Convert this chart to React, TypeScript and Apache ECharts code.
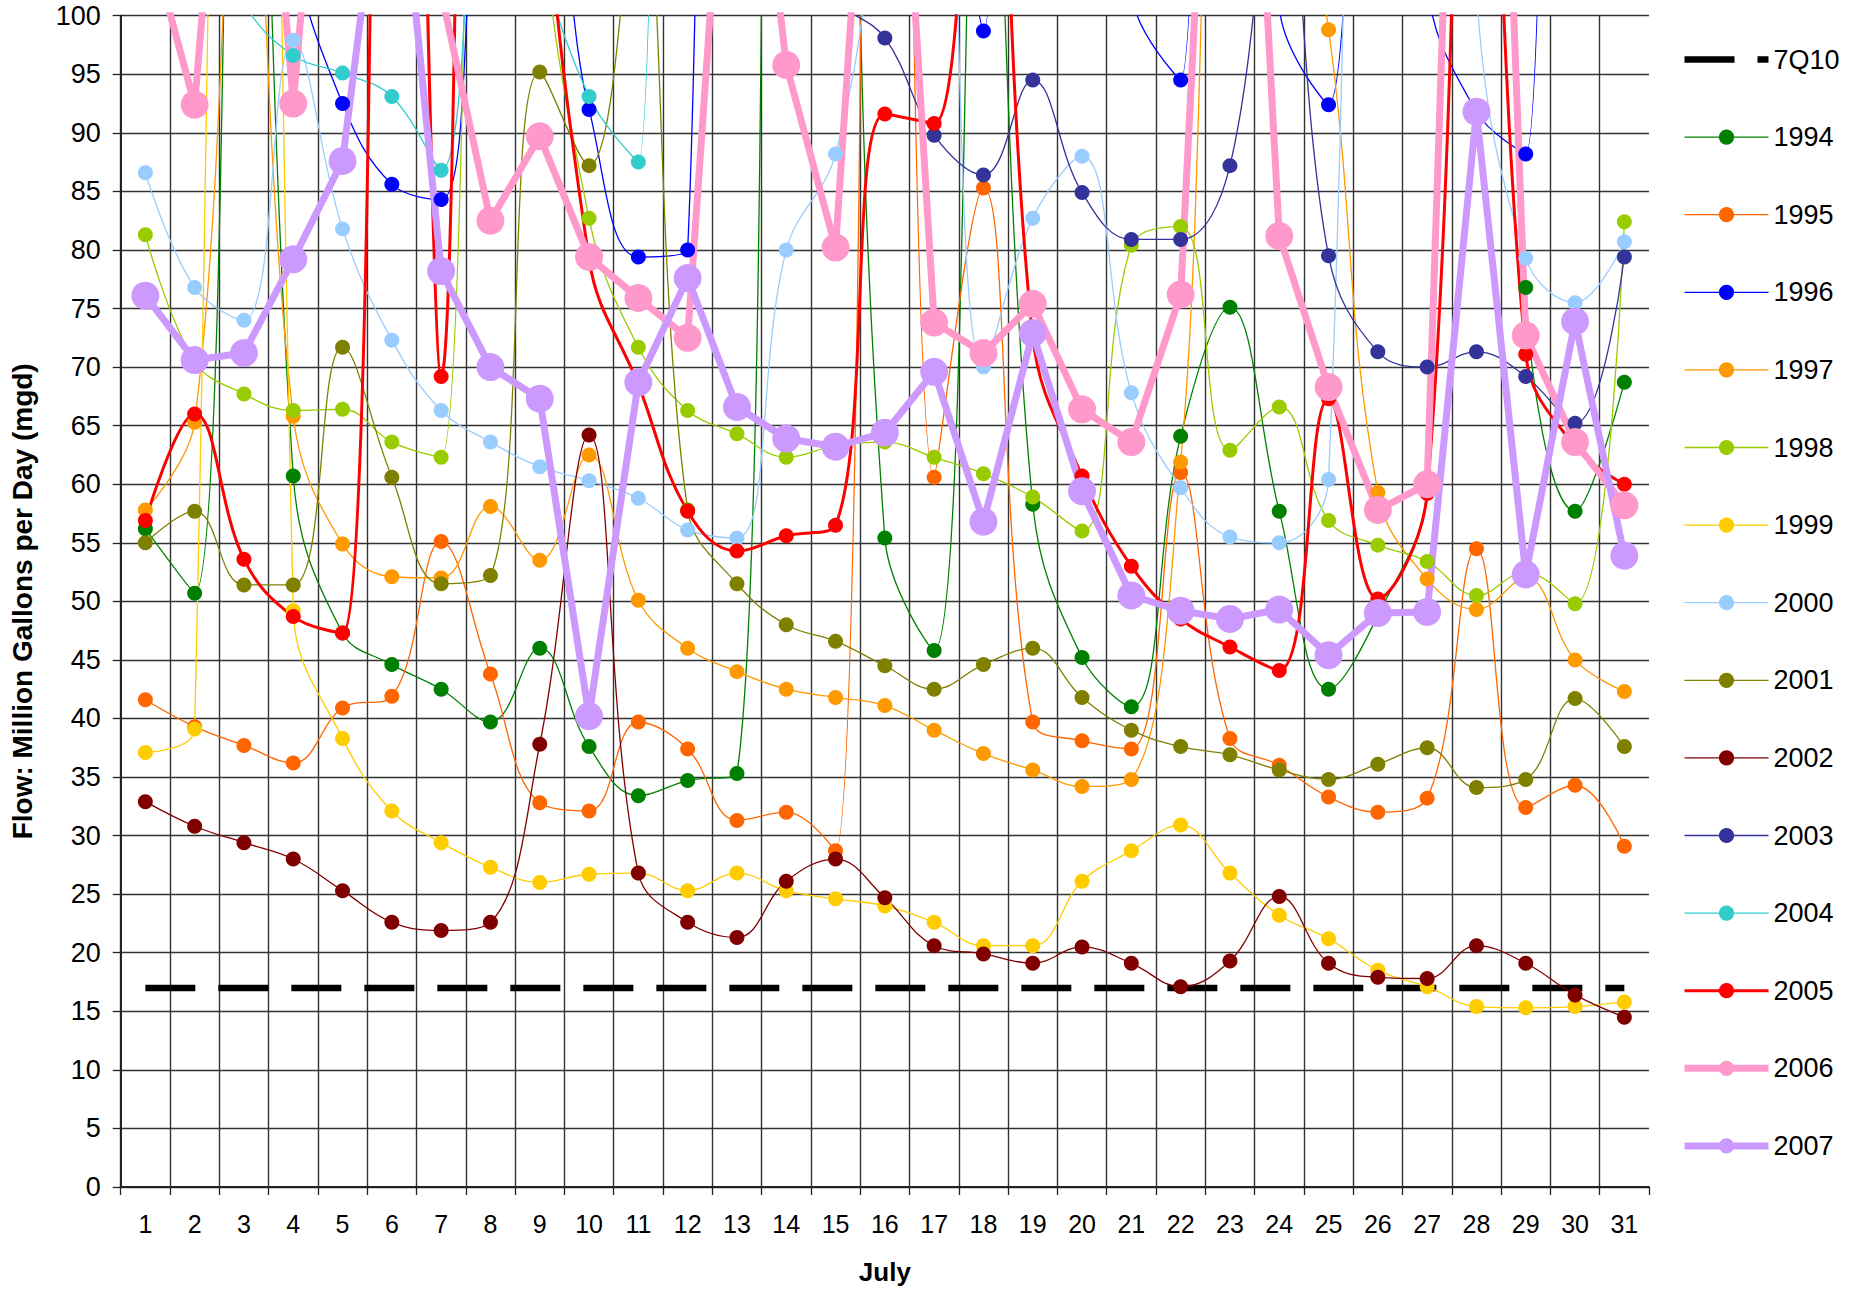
import React, { useEffect, useRef } from 'react';
import * as echarts from 'echarts';

const days = ['1','2','3','4','5','6','7','8','9','10','11','12','13','14','15','16','17','18','19','20','21','22','23','24','25','26','27','28','29','30','31'];

const q7q10Value = 17;

const y1994 = [56.2, 50.7, 170, 60.7, 47.3, 44.6, 42.5, 39.7, 46.0, 37.6, 33.4, 34.7, 35.3, 190, 160, 55.4, 45.8, 132, 58.3, 45.2, 41.0, 64.1, 75.1, 57.7, 42.5, 48.8, 60.0, 250, 76.8, 57.7, 68.7];
const y1995 = [41.6, 39.3, 37.7, 36.2, 40.9, 41.9, 55.1, 43.8, 32.8, 32.1, 39.7, 37.4, 31.3, 32.0, 28.7, 300, 60.6, 85.3, 39.7, 38.1, 37.4, 61.0, 38.3, 36.0, 33.3, 32.0, 33.2, 54.5, 32.4, 34.3, 29.1];
const y1996 = [130, 150, 140, 106, 92.5, 85.6, 84.3, 112, 112, 92.0, 79.4, 80.0, 600, 400, 300, 250, 130, 98.7, 400, 200, 102, 94.5, 400, 101, 92.4, 200, 103, 91.8, 88.2, 400, 300];
const y1997 = [57.8, 65.3, 125, 65.8, 54.9, 52.1, 52.0, 58.1, 53.5, 62.5, 50.1, 46.0, 44.0, 42.5, 41.8, 41.1, 39.0, 37.0, 35.6, 34.2, 34.8, 61.9, 125, 120, 98.8, 59.3, 51.9, 49.3, 52.0, 45.0, 42.3];
const y1998 = [81.3, 70.5, 67.7, 66.3, 66.4, 63.6, 62.3, 250, 113, 82.7, 71.7, 66.3, 64.3, 62.3, 63.3, 63.6, 62.3, 60.9, 58.9, 56.0, 80.4, 82.0, 62.9, 66.6, 56.9, 54.8, 53.4, 50.5, 52.5, 49.8, 82.4];
const y1999 = [37.1, 39.1, 400, 49.2, 38.3, 32.1, 29.4, 27.3, 26.0, 26.7, 26.8, 25.3, 26.8, 25.3, 24.6, 24.0, 22.6, 20.6, 20.6, 26.1, 28.7, 30.9, 26.8, 23.2, 21.2, 18.5, 17.1, 15.4, 15.3, 15.4, 15.8];
const y2000 = [86.6, 76.8, 74.0, 97.9, 81.8, 72.3, 66.3, 63.6, 61.5, 60.3, 58.8, 56.1, 55.4, 80.0, 88.2, 112, 130, 70.0, 82.7, 88.0, 67.8, 59.7, 55.5, 55.0, 60.4, 250, 200, 102, 79.3, 75.5, 80.7];
const y2001 = [55.0, 57.7, 51.4, 51.4, 71.7, 60.6, 51.5, 52.2, 95.2, 87.2, 112, 57.8, 51.5, 48.0, 46.6, 44.5, 42.5, 44.6, 46.0, 41.8, 39.0, 37.6, 36.9, 35.6, 34.8, 36.1, 37.5, 34.1, 34.8, 41.7, 37.6];
const y2002 = [32.9, 30.8, 29.4, 28.0, 25.3, 22.6, 21.9, 22.6, 37.8, 64.2, 26.8, 22.6, 21.3, 26.1, 28.0, 24.7, 20.6, 19.9, 19.1, 20.5, 19.1, 17.1, 19.3, 24.8, 19.1, 17.9, 17.8, 20.6, 19.1, 16.4, 14.5];
const y2003 = [220, 210, 200, 190, 180, 170, 160, 150, 140, 130, 125, 120, 115, 110, 101.5, 98.1, 89.8, 86.4, 94.5, 84.9, 80.9, 80.9, 87.2, 116, 79.5, 71.3, 70.0, 71.3, 69.2, 65.2, 79.4];
const y2004 = [120, 110, 101, 96.6, 95.1, 93.1, 86.8, 130, 106, 93.1, 87.5, 500, 420, 360, 320, 290, 260, 240, 220, 200, 190, 180, 170, 160, 150, 145, 140, 135, 130, 125, 120];
const y2005 = [56.9, 66.0, 53.6, 48.7, 47.3, 200, 69.2, 350, 125, 79.2, 68.5, 57.7, 54.3, 55.6, 56.5, 91.6, 90.8, 140, 72.6, 60.7, 53.0, 48.5, 46.1, 44.1, 67.3, 50.2, 59.2, 150, 71.1, 63.2, 60.0];
const y2006 = [108, 92.4, 143, 92.5, 141, 130, 102, 82.5, 89.7, 79.4, 75.9, 72.5, 133, 95.8, 80.2, 143, 73.8, 71.2, 75.4, 66.4, 63.6, 76.2, 160, 81.2, 68.3, 57.8, 60.0, 185, 72.7, 63.6, 58.2];
const y2007 = [76.1, 70.6, 71.2, 79.2, 87.6, 121, 78.2, 70.0, 67.3, 40.2, 68.7, 77.6, 66.6, 63.9, 63.2, 64.4, 69.6, 56.8, 72.9, 59.4, 50.5, 49.2, 48.5, 49.3, 45.4, 49.0, 49.1, 91.8, 52.3, 73.9, 53.9];

const yTitle = 'Flow: Million Gallons per Day (mgd)';
const xTitle = 'July';

const FONT = '"Liberation Sans", Arial, sans-serif';

type Ser = { name: string; data: number[]; color: string; width: number };
const thinSeries: Ser[] = [
  { name: '1994', data: y1994, color: '#008000', width: 1.3 },
  { name: '1995', data: y1995, color: '#FF6600', width: 1.3 },
  { name: '1996', data: y1996, color: '#0000FF', width: 1.3 },
  { name: '1997', data: y1997, color: '#FF9900', width: 1.3 },
  { name: '1998', data: y1998, color: '#99CC00', width: 1.3 },
  { name: '1999', data: y1999, color: '#FFCC00', width: 1.3 },
  { name: '2000', data: y2000, color: '#99CCFF', width: 1.3 },
  { name: '2001', data: y2001, color: '#808000', width: 1.3 },
  { name: '2002', data: y2002, color: '#800000', width: 1.3 },
  { name: '2003', data: y2003, color: '#333399', width: 1.3 },
  { name: '2004', data: y2004, color: '#33CCCC', width: 1.3 },
  { name: '2005', data: y2005, color: '#FF0000', width: 3 },
];
const thickSeries: Ser[] = [
  { name: '2006', data: y2006, color: '#FF99CC', width: 7 },
  { name: '2007', data: y2007, color: '#CC99FF', width: 7 },
];

export default function App() {
  const ref = useRef<HTMLDivElement>(null);
  useEffect(() => {
    if (!ref.current) return;
    const chart = echarts.init(ref.current, null, { renderer: 'svg' });
    const series: any[] = [];
    series.push({
      name: '7Q10',
      type: 'line',
      data: days.map(() => q7q10Value),
      symbol: 'none',
      lineStyle: { color: '#000', width: 6.5, type: [50, 23] },
      itemStyle: { color: '#000' },
      silent: true,
    });
    thinSeries.forEach((s) => {
      series.push({
        name: s.name,
        type: 'line',
        data: s.data,
        smooth: 0.4,
        symbol: 'circle',
        symbolSize: 15,
        showAllSymbol: true,
        clip: true,
        lineStyle: { color: s.color, width: s.width },
        itemStyle: { color: s.color, borderWidth: 0 },
      });
    });
    thickSeries.forEach((s) => {
      series.push({
        name: s.name,
        type: 'line',
        data: s.data,
        smooth: false,
        symbol: 'circle',
        symbolSize: 28,
        showAllSymbol: true,
        clip: true,
        lineStyle: { color: s.color, width: s.width },
        itemStyle: { color: s.color, borderWidth: 0 },
      });
    });

    const legendData: any[] = [{ name: '7Q10', itemStyle: { opacity: 0 } }];
    thinSeries.concat(thickSeries).forEach((s) => legendData.push({ name: s.name }));

    chart.setOption({
      animation: false,
      backgroundColor: '#ffffff',
      textStyle: { fontFamily: FONT },
      grid: { left: 120.7, right: 217, top: 15.7, bottom: 101.7, containLabel: false },
      legend: {
        data: legendData,
        orient: 'vertical',
        left: 1676,
        top: 40.5,
        padding: 5,
        itemWidth: 84,
        itemHeight: 19,
        itemGap: 49.6,
        selectedMode: false,
        lineStyle: { width: 'inherit' },
        textStyle: { fontFamily: FONT, fontSize: 27, color: '#000', lineHeight: 28 },
      },
      xAxis: {
        type: 'category',
        data: days,
        boundaryGap: true,
        name: xTitle,
        nameLocation: 'middle',
        nameGap: 72,
        nameTextStyle: { fontFamily: FONT, fontSize: 26, fontWeight: 'bold', color: '#000' },
        axisLine: { show: true, lineStyle: { color: '#222', width: 2 } },
        axisTick: { show: true, interval: 0, length: 8, inside: false, lineStyle: { color: '#222', width: 1.3 } },
        axisLabel: { interval: 0, fontSize: 25, margin: 24, color: '#000', fontFamily: FONT },
        splitLine: { show: true, interval: 0, showMaxLine: false, lineStyle: { color: '#333', width: 1.4 } },
      },
      yAxis: {
        type: 'value',
        min: 0,
        max: 100,
        interval: 5,
        name: yTitle,
        nameLocation: 'middle',
        nameGap: 84,
        nameTextStyle: { fontFamily: FONT, fontSize: 28, fontWeight: 'bold', color: '#000' },
        axisLine: { show: true, lineStyle: { color: '#222', width: 2 } },
        axisTick: { show: true, length: 8, inside: false, lineStyle: { color: '#222', width: 1.3 } },
        axisLabel: { fontSize: 27, margin: 20, color: '#000', fontFamily: FONT },
        splitLine: { show: true, lineStyle: { color: '#333', width: 1.4 } },
      },
      series,
    });
    return () => chart.dispose();
  }, []);
  return (
    <div
      ref={ref}
      style={{ position: 'absolute', left: 0, top: 0, width: 1866, height: 1290, background: '#fff' }}
    />
  );
}
